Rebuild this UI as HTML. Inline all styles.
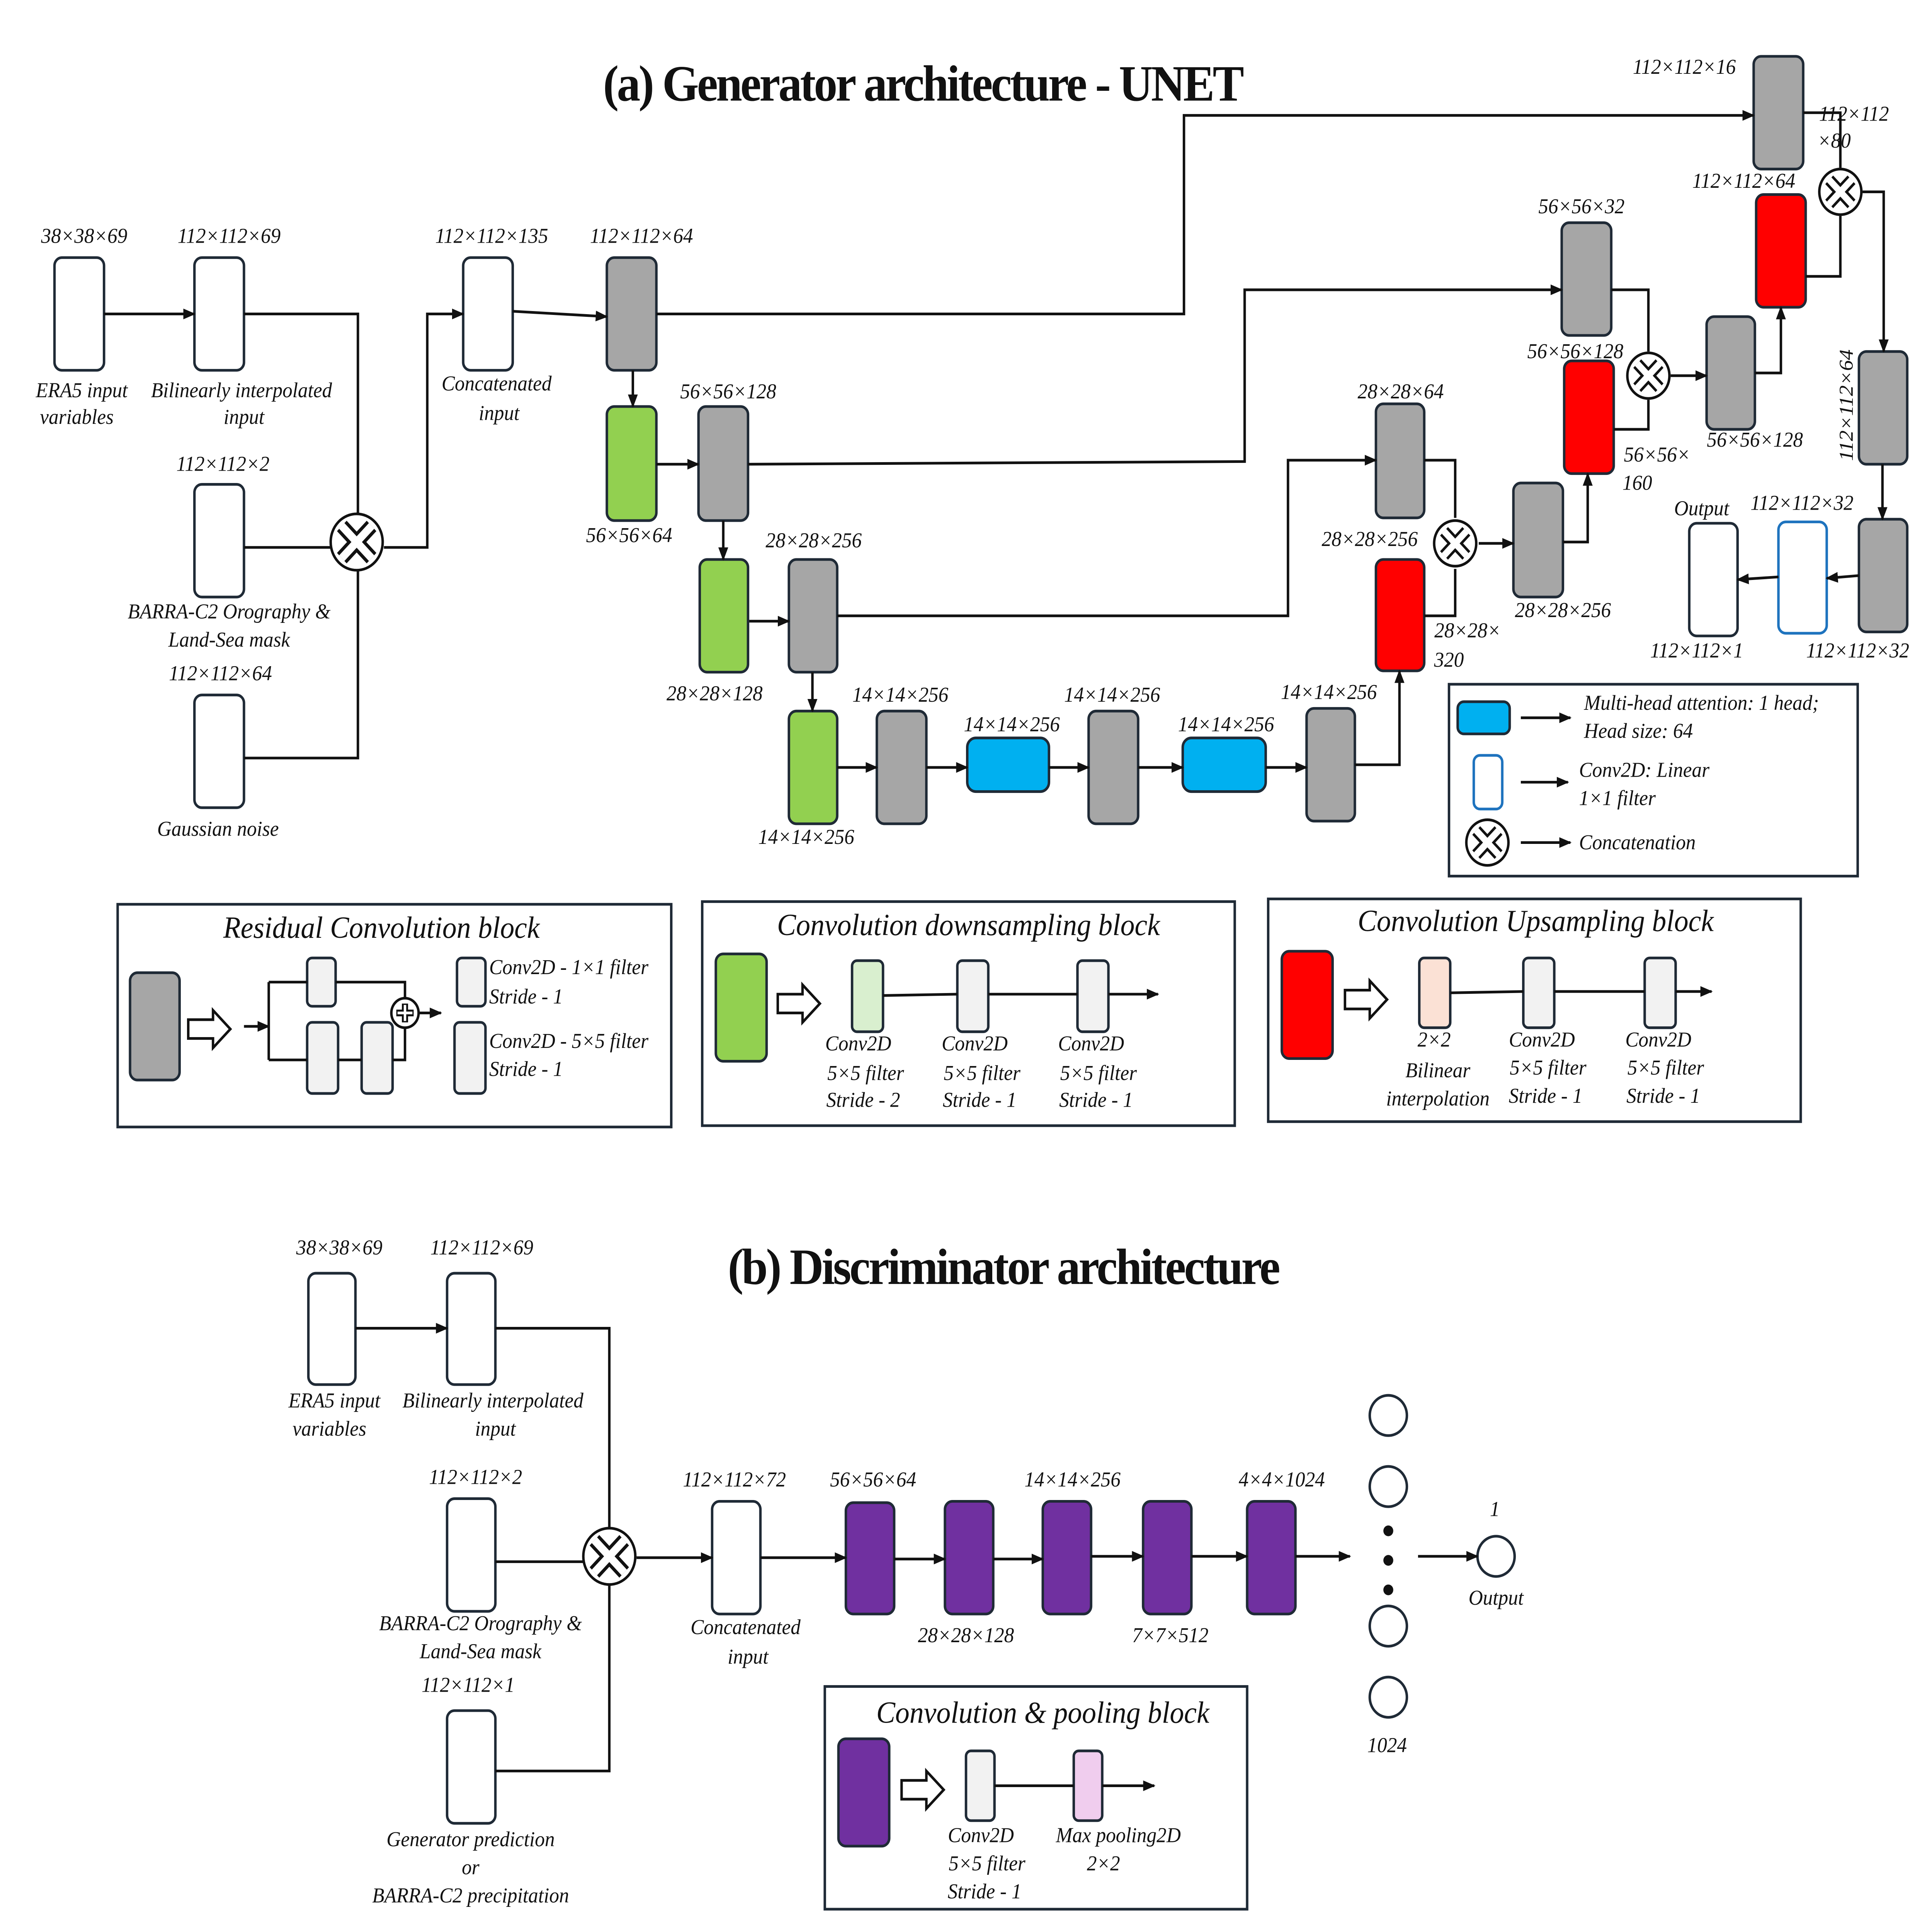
<!DOCTYPE html>
<html><head><meta charset="utf-8"><style>
html,body{margin:0;padding:0;background:#fff;width:100%;height:100%;overflow:hidden}
svg{display:block;position:absolute;left:0;top:0;width:100vw;height:100vh}
text{font-family:"Liberation Serif",serif;font-style:italic;font-size:16px;fill:#111}
.t{font-style:normal;font-weight:bold;font-size:38px;letter-spacing:-1.5px}
.h{font-size:23px}
</style></head><body>
<svg viewBox="0 0 1560 1440" preserveAspectRatio="none" xmlns="http://www.w3.org/2000/svg">
<defs>
<marker id="a" markerWidth="10" markerHeight="8" refX="9" refY="4" orient="auto" markerUnits="userSpaceOnUse"><path d="M0,0 L10,4 L0,8 z" fill="#111"/></marker>
<g id="cc"><circle r="21" fill="#fff" stroke="#111" stroke-width="2"/><path d="M-12,-12 L12,12 M12,-12 L-12,12" stroke="#111" stroke-width="11"/><path d="M-12,-12 L12,12 M12,-12 L-12,12" stroke="#fff" stroke-width="6"/></g>
<g id="cs"><circle r="17" fill="#fff" stroke="#111" stroke-width="2"/><path d="M-9,-9 L9,9 M9,-9 L-9,9" stroke="#111" stroke-width="9"/><path d="M-9,-9 L9,9 M9,-9 L-9,9" stroke="#fff" stroke-width="5"/></g>
<path id="ha" d="M0,-7 L20,-7 L20,-14 L34,0 L20,14 L20,7 L0,7 z" fill="#fff" stroke="#111" stroke-width="2"/>
</defs>
<g stroke="#1f2a36" stroke-width="2">
<g fill="#fff">
<rect x="44" y="192" width="40" height="84" rx="6"/><rect x="157" y="192" width="40" height="84" rx="6"/>
<rect x="157" y="361" width="40" height="84" rx="6"/><rect x="157" y="518" width="40" height="84" rx="6"/>
<rect x="374" y="192" width="40" height="84" rx="6"/><rect x="1364" y="390" width="39" height="84" rx="6"/>
</g>
<rect x="1436" y="389" width="39" height="83" rx="6" fill="#fff" stroke="#1e73be"/>
<g fill="#a6a6a6">
<rect x="490" y="192" width="40" height="84" rx="6"/><rect x="564" y="303" width="40" height="85" rx="6"/>
<rect x="637" y="417" width="39" height="84" rx="6"/><rect x="708" y="530" width="40" height="84" rx="6"/>
<rect x="879" y="530" width="40" height="84" rx="6"/><rect x="1055" y="528" width="39" height="84" rx="6"/>
<rect x="1111" y="301" width="39" height="85" rx="6"/><rect x="1222" y="360" width="40" height="85" rx="6"/>
<rect x="1261" y="166" width="40" height="84" rx="6"/><rect x="1378" y="236" width="39" height="84" rx="6"/>
<rect x="1416" y="42" width="40" height="84" rx="6"/><rect x="1501" y="262" width="39" height="84" rx="6"/>
<rect x="1501" y="387" width="39" height="84" rx="6"/>
<rect x="105" y="725" width="40" height="80" rx="6"/>
</g>
<g fill="#92d050">
<rect x="490" y="303" width="40" height="85" rx="6"/><rect x="565" y="417" width="39" height="84" rx="6"/>
<rect x="637" y="530" width="39" height="84" rx="6"/><rect x="578" y="711" width="41" height="80" rx="6"/>
</g>
<g fill="#ff0000">
<rect x="1111" y="417" width="39" height="83" rx="6"/><rect x="1263" y="269" width="40" height="84" rx="6"/>
<rect x="1418" y="145" width="40" height="84" rx="6"/><rect x="1035" y="709" width="41" height="80" rx="6"/>
</g>
<g fill="#00b0f0">
<rect x="781" y="550" width="66" height="40" rx="7"/><rect x="955" y="550" width="67" height="40" rx="7"/>
<rect x="1177" y="523" width="42" height="24" rx="5"/>
</g>
<rect x="1190" y="563" width="23" height="40" rx="5" fill="#fff" stroke="#1e73be"/>
<g fill="none" stroke="#111">
<path d="M84,234 H157" marker-end="url(#a)"/>
<path d="M197,234 H289 V565 H197"/>
<path d="M197,408 H268"/>
<path d="M310,408 H345 V234 H374" marker-end="url(#a)"/>
<path d="M414,232 L490,236" marker-end="url(#a)"/>
<path d="M530,234 H956 V86 H1416" marker-end="url(#a)"/>
<path d="M511,276 V303" marker-end="url(#a)"/>
<path d="M530,346 H564" marker-end="url(#a)"/>
<path d="M604,346 L1005,344 V216 H1261" marker-end="url(#a)"/>
<path d="M584,388 V417" marker-end="url(#a)"/>
<path d="M605,463 H637" marker-end="url(#a)"/>
<path d="M676,459 H1040 V343 H1111" marker-end="url(#a)"/>
<path d="M656,501 V530" marker-end="url(#a)"/>
<path d="M676,572 H708" marker-end="url(#a)"/>
<path d="M748,572 H781" marker-end="url(#a)"/>
<path d="M847,572 H879" marker-end="url(#a)"/>
<path d="M919,572 H955" marker-end="url(#a)"/>
<path d="M1022,572 H1055" marker-end="url(#a)"/>
<path d="M1094,570 H1130 V500" marker-end="url(#a)"/>
<path d="M1150,343 H1175 V386 M1150,459 H1175 V424"/>
<path d="M1194,405 H1222" marker-end="url(#a)"/>
<path d="M1262,404 H1282 V353" marker-end="url(#a)"/>
<path d="M1301,216 H1331 V262 M1303,320 H1331 V298"/>
<path d="M1349,280 H1378" marker-end="url(#a)"/>
<path d="M1417,278 H1438 V229" marker-end="url(#a)"/>
<path d="M1456,84 H1486 V125 M1458,206 H1486 V161"/>
<path d="M1504,143 H1521 V262" marker-end="url(#a)"/>
<path d="M1520,346 V387" marker-end="url(#a)"/>
<path d="M1501,429 L1475,431" marker-end="url(#a)"/>
<path d="M1436,430 L1403,432" marker-end="url(#a)"/>
<path d="M1228,535 H1268" marker-end="url(#a)"/>
<path d="M1228,583 H1266" marker-end="url(#a)"/>
<path d="M1228,628 H1268" marker-end="url(#a)"/>
</g>
<g fill="none" stroke="#1f2a36">
<rect x="1170" y="510" width="330" height="143"/>
<rect x="95" y="674" width="447" height="166"/>
<rect x="567" y="672" width="430" height="167"/>
<rect x="1024" y="670" width="430" height="166"/>
<rect x="666" y="1257" width="341" height="166"/>
</g>
<g fill="#f2f2f2">
<rect x="248" y="714" width="23" height="36" rx="4"/><rect x="248" y="762" width="25" height="53" rx="4"/>
<rect x="292" y="762" width="25" height="53" rx="4"/><rect x="369" y="714" width="23" height="36" rx="4"/>
<rect x="367" y="762" width="25" height="53" rx="4"/>
<rect x="773" y="716" width="25" height="53" rx="4"/><rect x="870" y="716" width="25" height="53" rx="4"/>
<rect x="1230" y="714" width="25" height="52" rx="4"/><rect x="1328" y="714" width="25" height="52" rx="4"/>
<rect x="780" y="1305" width="23" height="52" rx="4"/>
</g>
<rect x="688" y="716" width="25" height="53" rx="4" fill="#d9efcf"/>
<rect x="1146" y="714" width="25" height="52" rx="4" fill="#fbe1d5"/>
<rect x="867" y="1305" width="23" height="52" rx="4" fill="#f0cdee"/>
<g fill="none" stroke="#111">
<path d="M197,765 H217" marker-end="url(#a)"/>
<path d="M217,732 V790 M217,732 H248 M217,790 H248" />
<path d="M271,732 H327 V744 M273,790 H292 M317,790 H327 V766"/>
<path d="M338,755 H356" marker-end="url(#a)"/>
<path d="M713,742 L773,741 M798,741 H870 M895,741 H935" marker-end="url(#a)"/>
<path d="M1171,740 L1230,739 M1255,739 H1328 M1353,739 H1382" marker-end="url(#a)"/>
<path d="M803,1331 H867 M890,1331 H932" marker-end="url(#a)"/>
</g>
<circle cx="327" cy="755" r="11" fill="#fff" stroke="#111"/>
<path d="M327,748 V762 M320,755 H334" stroke="#111" stroke-width="5"/>
<path d="M327,749 V761 M321,755 H333" stroke="#fff" stroke-width="2"/>
<g fill="#fff">
<rect x="249" y="949" width="38" height="83" rx="6"/><rect x="361" y="949" width="39" height="83" rx="6"/>
<rect x="361" y="1117" width="39" height="84" rx="6"/><rect x="361" y="1275" width="39" height="84" rx="6"/>
<rect x="575" y="1119" width="39" height="84" rx="6"/>
<circle cx="1121" cy="1055" r="15"/><circle cx="1121" cy="1108" r="15"/>
<circle cx="1121" cy="1212" r="15"/><circle cx="1121" cy="1265" r="15"/>
<circle cx="1208" cy="1160" r="15"/>
</g>
<g fill="#7030a0">
<rect x="683" y="1120" width="39" height="83" rx="6"/><rect x="763" y="1119" width="39" height="84" rx="6"/>
<rect x="842" y="1119" width="39" height="84" rx="6"/><rect x="923" y="1119" width="39" height="84" rx="6"/>
<rect x="1007" y="1119" width="39" height="84" rx="6"/><rect x="677" y="1296" width="41" height="80" rx="6"/>
</g>
<g fill="none" stroke="#111">
<path d="M287,990 H361" marker-end="url(#a)"/>
<path d="M400,990 H492 V1320 H400 M400,1164 H471"/>
<path d="M514,1161 H575" marker-end="url(#a)"/>
<path d="M614,1161 H683" marker-end="url(#a)"/>
<path d="M722,1162 H763" marker-end="url(#a)"/>
<path d="M802,1162 H842" marker-end="url(#a)"/>
<path d="M881,1160 H923" marker-end="url(#a)"/>
<path d="M962,1160 H1007" marker-end="url(#a)"/>
<path d="M1046,1160 H1090" marker-end="url(#a)"/>
<path d="M1145,1160 H1193" marker-end="url(#a)"/>
</g>
</g>
<g fill="#111"><circle cx="1121" cy="1141" r="4"/><circle cx="1121" cy="1163" r="4"/><circle cx="1121" cy="1185" r="4"/></g>
<use href="#cc" x="288" y="404"/><use href="#cc" x="492" y="1160"/>
<use href="#cs" x="1175" y="405"/><use href="#cs" x="1331" y="280"/><use href="#cs" x="1486" y="143"/><use href="#cs" x="1201" y="628"/>
<use href="#ha" x="152" y="767"/><use href="#ha" x="628" y="748"/><use href="#ha" x="1086" y="745"/><use href="#ha" x="728" y="1334"/>
<text class="t" x="745" y="75" text-anchor="middle">(a) Generator architecture - UNET</text>
<text class="t" x="810" y="957" text-anchor="middle">(b) Discriminator architecture</text>
<g text-anchor="middle">
<text x="68" y="181">38×38×69</text><text x="185" y="181">112×112×69</text>
<text x="66" y="296">ERA5 input</text><text x="62" y="316">variables</text>
<text x="195" y="296">Bilinearly interpolated</text><text x="197" y="316">input</text>
<text x="180" y="351">112×112×2</text><text x="185" y="461">BARRA-C2 Orography &amp;</text><text x="185" y="482">Land-Sea mask</text>
<text x="178" y="507">112×112×64</text><text x="176" y="623">Gaussian noise</text>
<text x="397" y="181">112×112×135</text><text x="401" y="291">Concatenated</text><text x="403" y="313">input</text>
<text x="518" y="181">112×112×64</text><text x="1360" y="55">112×112×16</text>
<text x="508" y="404">56×56×64</text><text x="588" y="297">56×56×128</text><text x="1277" y="159">56×56×32</text>
<text x="577" y="522">28×28×128</text><text x="657" y="408">28×28×256</text><text x="1131" y="297">28×28×64</text>
<text x="651" y="629">14×14×256</text><text x="727" y="523">14×14×256</text><text x="817" y="545">14×14×256</text>
<text x="898" y="523">14×14×256</text><text x="990" y="545">14×14×256</text><text x="1073" y="521">14×14×256</text>
<text x="1106" y="407">28×28×256</text><text x="1185" y="475">28×28×</text><text x="1170" y="497">320</text>
<text x="1262" y="460">28×28×256</text><text x="1272" y="267">56×56×128</text>
<text x="1338" y="344">56×56×</text><text x="1322" y="365">160</text>
<text x="1417" y="333">56×56×128</text><text x="1408" y="140">112×112×64</text>
<text x="1497" y="90">112×112</text><text x="1481" y="110">×80</text>
<text transform="translate(1496,302) rotate(-90)">112×112×64</text>
<text x="1500" y="490">112×112×32</text><text x="1455" y="380">112×112×32</text>
<text x="1374" y="384">Output</text><text x="1370" y="490">112×112×1</text>
<text class="h" x="308" y="699">Residual Convolution block</text>
<text class="h" x="782" y="697">Convolution downsampling block</text>
<text class="h" x="1240" y="694">Convolution Upsampling block</text>
<text class="h" x="842" y="1284">Convolution &amp; pooling block</text>
<text x="693" y="783">Conv2D</text><text x="699" y="805">5×5 filter</text><text x="697" y="825">Stride - 2</text>
<text x="787" y="783">Conv2D</text><text x="793" y="805">5×5 filter</text><text x="791" y="825">Stride - 1</text>
<text x="881" y="783">Conv2D</text><text x="887" y="805">5×5 filter</text><text x="885" y="825">Stride - 1</text>
<text x="1158" y="780">2×2</text><text x="1161" y="803">Bilinear</text><text x="1161" y="824">interpolation</text>
<text x="1245" y="780">Conv2D</text><text x="1250" y="801">5×5 filter</text><text x="1248" y="822">Stride - 1</text>
<text x="1339" y="780">Conv2D</text><text x="1345" y="801">5×5 filter</text><text x="1343" y="822">Stride - 1</text>
<text x="274" y="935">38×38×69</text><text x="389" y="935">112×112×69</text>
<text x="270" y="1049">ERA5 input</text><text x="266" y="1070">variables</text>
<text x="398" y="1049">Bilinearly interpolated</text><text x="400" y="1070">input</text>
<text x="384" y="1106">112×112×2</text><text x="388" y="1215">BARRA-C2 Orography &amp;</text><text x="388" y="1236">Land-Sea mask</text>
<text x="378" y="1261">112×112×1</text><text x="380" y="1376">Generator prediction</text><text x="380" y="1397">or</text><text x="380" y="1418">BARRA-C2 precipitation</text>
<text x="593" y="1108">112×112×72</text><text x="602" y="1218">Concatenated</text><text x="604" y="1240">input</text>
<text x="705" y="1108">56×56×64</text><text x="780" y="1224">28×28×128</text><text x="866" y="1108">14×14×256</text>
<text x="945" y="1224">7×7×512</text><text x="1035" y="1108">4×4×1024</text>
<text x="1120" y="1306">1024</text><text x="1207" y="1130">1</text><text x="1208" y="1196">Output</text>
<text x="792" y="1373">Conv2D</text><text x="797" y="1394">5×5 filter</text><text x="795" y="1415">Stride - 1</text>
<text x="903" y="1373">Max pooling2D</text><text x="891" y="1394">2×2</text>
</g>
<text x="1279" y="529">Multi-head attention: 1 head;</text><text x="1279" y="550">Head size: 64</text>
<text x="1275" y="579">Conv2D: Linear</text><text x="1275" y="600">1×1 filter</text>
<text x="1275" y="633">Concatenation</text>
<text x="395" y="726">Conv2D - 1×1 filter</text><text x="395" y="748">Stride - 1</text>
<text x="395" y="781">Conv2D - 5×5 filter</text><text x="395" y="802">Stride - 1</text>
</svg>
</body></html>
